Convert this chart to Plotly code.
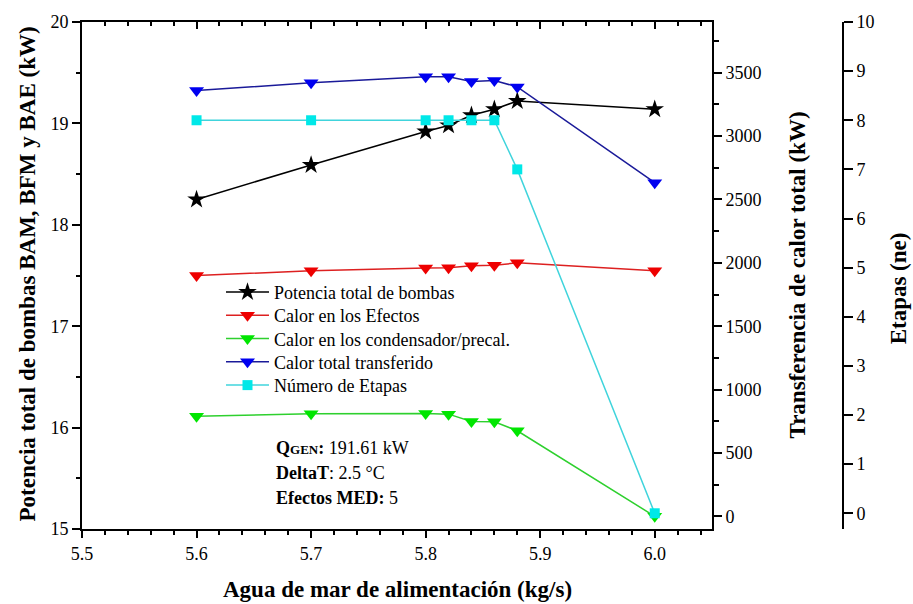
import plotly.graph_objects as go

# Feed seawater flow (kg/s)
agua_mar = [5.6, 5.7, 5.8, 5.82, 5.84, 5.86, 5.88, 6.0]

# Total pump power BAM + BFM + BAE (kW) - left axis
potencia_bombas = [18.25, 18.59, 18.92, 18.98, 19.08, 19.14, 19.22, 19.14]

# Heat duties (kW) - first right axis
calor_efectos = [1900, 1937, 1960, 1962, 1976, 1980, 2000, 1937]
calor_condensador = [790, 809, 812, 806, 748, 746, 675, 0]
calor_total = [3360, 3420, 3468, 3468, 3430, 3438, 3388, 2632]

# Number of stages - second right axis
etapas = [8, 8, 8, 8, 8, 8, 7, 0]

FONT = "Liberation Serif, Times New Roman, serif"
L, R, T, B = 82, 70, 17, 75
W, H = 913, 604
pw = W - L - R
ph = H - T - B
x_dom_end = 630 / pw
X_RANGE = [5.5, 6.05]


def paper_x(px):
    return (px - L) / pw


def paper_y(py):
    return 1 - (py - T) / ph


series = [
    dict(name="Potencia total de bombas", y=potencia_bombas, yaxis="y",
         line="#000000", marker="#000000", symbol="star", size=14),
    dict(name="Calor en los Efectos", y=calor_efectos, yaxis="y2",
         line="#dd2020", marker="#ee0000", symbol="triangle-down", size=13),
    dict(name="Calor en los condensador/precal.", y=calor_condensador, yaxis="y2",
         line="#2ed02e", marker="#00e600", symbol="triangle-down", size=13),
    dict(name="Calor total transferido", y=calor_total, yaxis="y2",
         line="#1a1a99", marker="#0000f0", symbol="triangle-down", size=13),
    dict(name="Número de Etapas", y=etapas, yaxis="y3",
         line="#40d4dc", marker="#00e8e8", symbol="square", size=10),
]

fig = go.Figure()
legend_layouts = {}
for i, s in enumerate(series):
    leg_id = "legend" if i == 0 else f"legend{i + 1}"
    fig.add_trace(go.Scatter(
        x=agua_mar, y=s["y"], name=s["name"], mode="lines+markers",
        xaxis="x", yaxis=s["yaxis"], legend=leg_id,
        line=dict(color=s["line"], width=1.5),
        marker=dict(symbol=s["symbol"], size=s["size"], color=s["marker"]),
    ))
    legend_layouts[leg_id] = dict(
        x=paper_x(221), y=paper_y(290 + 23.5 * i), xanchor="left", yanchor="middle",
        bgcolor="rgba(0,0,0,0)", font=dict(family=FONT, size=18, color="#000"),
        itemwidth=43,
    )

# empty trace that carries the top frame axis (inward ticks)
fig.add_trace(go.Scatter(
    x=[], y=[], xaxis="x2", yaxis="y", showlegend=False, hoverinfo="skip",
))

tick_font = dict(family=FONT, size=18, color="#000")
common_x = dict(
    domain=[0, x_dom_end], range=X_RANGE, tick0=5.5, dtick=0.1,
    showgrid=False, zeroline=False, showline=True, linecolor="#000", linewidth=2,
    tickcolor="#000", tickwidth=1.5, tickfont=tick_font,
)

fig.update_layout(
    width=W, height=H,
    margin=dict(l=L, r=R, t=T, b=B),
    paper_bgcolor="white", plot_bgcolor="white",
    font=dict(family=FONT, size=18, color="#000"),
    showlegend=True,
    **legend_layouts,
    xaxis=dict(
        **common_x, anchor="y", side="bottom",
        ticks="outside", ticklen=7, tickformat=".1f",
        minor=dict(dtick=0.02, tick0=5.5, ticks="outside", ticklen=4,
                   tickcolor="#000", tickwidth=1.5),
    ),
    xaxis2=dict(
        **common_x, anchor="y", side="top", overlaying="x",
        ticks="inside", ticklen=7, showticklabels=False,
        minor=dict(dtick=0.02, tick0=5.5, ticks="inside", ticklen=4,
                   tickcolor="#000", tickwidth=1.5),
    ),
    yaxis=dict(
        range=[15, 20], dtick=1, tick0=15, anchor="x", side="left",
        showgrid=False, zeroline=False, showline=True, linecolor="#000", linewidth=2,
        ticks="outside", ticklen=8, tickcolor="#000", tickwidth=1.5, tickfont=tick_font,
        minor=dict(dtick=0.5, ticks="outside", ticklen=4, tickcolor="#000", tickwidth=1.5),
    ),
    yaxis2=dict(
        range=[-100, 3900], tick0=0, dtick=500, anchor="x", side="right", overlaying="y",
        showgrid=False, zeroline=False, showline=True, linecolor="#000", linewidth=2,
        ticks="outside", ticklen=8, tickcolor="#000", tickwidth=1.5, tickfont=tick_font,
        minor=dict(dtick=250, tick0=0, ticks="outside", ticklen=5, tickcolor="#000", tickwidth=1.5),
    ),
    yaxis3=dict(
        range=[-0.32, 10], tick0=0, dtick=1, anchor="free", position=1, side="right",
        overlaying="y",
        showgrid=False, zeroline=False, showline=True, linecolor="#000", linewidth=2,
        ticks="outside", ticklen=9, tickcolor="#000", tickwidth=1.5, tickfont=tick_font,
    ),
)

title_font = dict(family=FONT, size=23, color="#000")

annotations = [
    dict(text="<b>Potencia total de bombas BAM, BFM y BAE (kW)</b>", x=paper_x(28), y=paper_y(272),
         textangle=-90, font=title_font),
    dict(text="<b>Agua de mar de alimentación (kg/s)</b>", x=paper_x(397), y=paper_y(590),
         font=title_font),
    dict(text="<b>Transferencia de calor total (kW)</b>", x=paper_x(797), y=paper_y(273),
         textangle=-90, font=title_font),
    dict(text="<b>Etapas (ne)</b>", x=paper_x(898), y=paper_y(286),
         textangle=-90, font=title_font),
]
for a in annotations:
    a.update(xref="paper", yref="paper", showarrow=False, xanchor="center", yanchor="middle")

info_lines = [
    ("<b>Q<span style='font-size:13px'>GEN</span>:</b> 191.61 kW", 447),
    ("<b>DeltaT</b>: 2.5 °C", 472),
    ("<b>Efectos MED:</b> 5", 498),
]
for txt, py in info_lines:
    annotations.append(dict(
        text=txt, x=paper_x(274), y=paper_y(py), xref="paper", yref="paper",
        xanchor="left", yanchor="middle", showarrow=False,
        font=dict(family=FONT, size=18, color="#000"),
    ))

fig.update_layout(annotations=annotations)

fig.write_html("out.html")
